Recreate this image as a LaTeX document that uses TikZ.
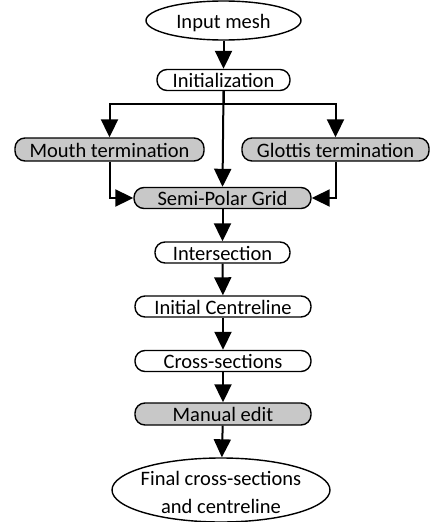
\documentclass[tikz,border=0pt]{standalone}
\usepackage{fontspec}
\setmainfont{Carlito}
\usetikzlibrary{arrows.meta,shapes.geometric}
\definecolor{boxgray}{RGB}{200,200,200}
\begin{document}
\begin{tikzpicture}[x=1pt,y=-1pt,
  every node/.style={font=\fontsize{20.5}{28}\selectfont, inner sep=0pt},
  roundbox/.style={draw, line width=1.4pt, rectangle, rounded corners=10pt,
    minimum height=21pt, text height=16pt, text depth=1pt},
  graybox/.style={roundbox, fill=boxgray},
  termnode/.style={draw, line width=1.4pt, ellipse},
  arr/.style={line width=2pt, line join=miter, -{Triangle[length=18pt,width=17pt]}},
  conn/.style={line width=2pt, line join=miter}]
\useasboundingbox (0,0) rectangle (430,522);

\node[termnode, minimum width=155pt, minimum height=39pt, text height=16pt, text depth=1pt] (in) at (223.5,20.5) {Input mesh};
\node[roundbox, minimum width=133pt] (init) at (223.5,80) {Initialization};
\coordinate (split) at (223.5,104);
\node[graybox, minimum width=189pt, minimum height=23pt] (mouth) at (109.5,149.5) {Mouth termination};
\node[graybox, minimum width=187pt, minimum height=23pt] (glot) at (335.5,149.5) {Glottis termination};
\node[graybox, minimum width=177pt] (semi) at (222.5,198) {Semi-Polar Grid};
\node[roundbox, minimum width=135pt] (inter) at (222.5,252.5) {Intersection};
\node[roundbox, minimum width=176pt] (icl) at (223,306.5) {Initial Centreline};
\node[roundbox, minimum width=176pt] (cs) at (223,361) {Cross-sections};
\node[graybox, minimum width=176pt, minimum height=22pt] (me) at (223,414) {Manual edit};
\node[termnode, minimum width=218pt, minimum height=64pt] (fin) at (221,490) {};
\node[align=center] (fintxt) at (221,492) {Final cross-sections\\and centreline};

\draw[arr] (in) -- (init);
\draw[conn] (init.south) -- (split);
\draw[arr] (split) -| (mouth.north);
\draw[arr] (split) -| (glot.north);
\draw[arr] (init.south) -- (semi.north);
\draw[arr] (mouth.south) |- (semi.west);
\draw[arr] (glot.south) |- (semi.east);
\draw[arr] (semi) -- (inter);
\draw[arr] (inter) -- (icl);
\draw[arr] (icl) -- (cs);
\draw[arr] (cs) -- (me);
\draw[arr] (me) -- (fin);
\end{tikzpicture}
\end{document}
